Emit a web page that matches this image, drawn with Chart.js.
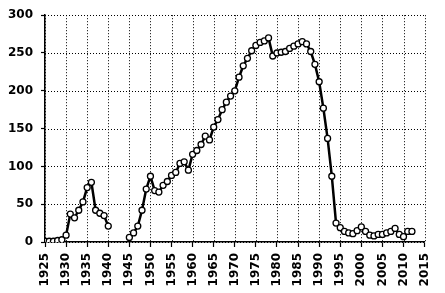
<!DOCTYPE html>
<html>
<head>
<meta charset="utf-8">
<script src="https://cdn.jsdelivr.net/npm/chart.js@4/dist/chart.umd.min.js"></script>
<style>
  html, body { margin: 0; padding: 0; background: #fff; }
  #wrap { width: 445px; height: 293px; }
</style>
</head>
<body>
<div id="wrap"><canvas id="c" width="445" height="293"></canvas></div>
<script>
// Years (annual) and values; null = no data (gap)
const years = [];
for (let y = 1925; y <= 2012; y++) years.push(y);

const values = [
  1, 1, 1, 2, 3,                 // 1925-1929
  9, 37, 32, 42, 53,             // 1930-1934
  72, 79, 42, 38, 35,            // 1935-1939
  21, null, null, null, null,    // 1940-1944
  6, 12, 21, 42, 70,             // 1945-1949
  87, 68, 66, 75, 80,            // 1950-1954
  88, 92, 104, 106, 95,          // 1955-1959
  116, 121, 129, 140, 135,       // 1960-1964
  152, 162, 175, 185, 193,       // 1965-1969
  200, 218, 233, 243, 253,       // 1970-1974
  260, 264, 266, 270, 246,       // 1975-1979
  250, 251, 252, 256, 259,       // 1980-1984
  262, 265, 262, 252, 235,       // 1985-1989
  212, 177, 137, 87, 25,         // 1990-1994
  19, 14, 12, 11, 15,            // 1995-1999
  20, 14, 9, 8, 10,              // 2000-2004
  10, 12, 14, 18, 10,            // 2005-2009
  7, 14, 14                      // 2010-2012
];

const xTicks = [1925,1930,1935,1940,1945,1950,1955,1960,1965,1970,1975,1980,1985,1990,1995,2000,2005,2010,2015];
const yTicks = [0, 50, 100, 150, 200, 250, 300];

const points = years.map((y, i) => ({ x: y, y: values[i] }));

// Dotted grid drawn through the scales (behind the data)
const dottedGrid = {
  id: 'dottedGrid',
  beforeDatasetsDraw(chart) {
    const { ctx, chartArea: a, scales: { x, y } } = chart;
    ctx.save();
    ctx.strokeStyle = '#000';
    ctx.lineWidth = 1;
    ctx.setLineDash([1, 2]);
    xTicks.forEach(v => {
      const px = Math.round(x.getPixelForValue(v)) + 0.5;
      ctx.beginPath(); ctx.moveTo(px, a.top); ctx.lineTo(px, a.bottom); ctx.stroke();
    });
    yTicks.forEach(v => {
      const py = Math.round(y.getPixelForValue(v)) + 0.5;
      ctx.beginPath(); ctx.moveTo(a.left, py); ctx.lineTo(a.right, py); ctx.stroke();
    });
    ctx.restore();
  }
};

new Chart(document.getElementById('c'), {
  type: 'line',
  data: {
    datasets: [{
      data: points,
      borderColor: '#000',
      borderWidth: 2.5,
      pointRadius: 3,
      pointBorderWidth: 1.3,
      pointBackgroundColor: '#fff',
      pointBorderColor: '#000',
      spanGaps: false,
      tension: 0
    }]
  },
  plugins: [dottedGrid],
  options: {
    responsive: false,
    animation: false,
    devicePixelRatio: 1,
    layout: { padding: { top: 12, right: 11, left: 0, bottom: 0 } },
    plugins: { legend: { display: false }, tooltip: { enabled: false } },
    scales: {
      x: {
        type: 'linear',
        min: 1925,
        max: 2015,
        afterBuildTicks: (s) => { s.ticks = xTicks.map(v => ({ value: v })); },
        afterFit: (s) => { s.height = 51; },
        ticks: {
          minRotation: 90,
          maxRotation: 90,
          autoSkip: false,
          padding: 6,
          color: '#000',
          font: { family: 'DejaVu Sans', size: 12, weight: 'bold' },
          callback: (v) => String(v)
        },
        grid: {
          drawOnChartArea: false,
          color: '#000',
          drawTicks: true,
          tickLength: 5,
          tickColor: '#000',
          tickWidth: 1.2
        },
        border: { display: true, color: '#000', width: 1.5 }
      },
      y: {
        min: 0,
        max: 300,
        afterBuildTicks: (s) => { s.ticks = yTicks.map(v => ({ value: v })); },
        afterFit: (s) => { s.width = 45; },
        ticks: {
          padding: 8,
          color: '#000',
          font: { family: 'DejaVu Sans', size: 12, weight: 'bold' }
        },
        grid: {
          drawOnChartArea: false,
          color: '#000',
          drawTicks: true,
          tickLength: 4,
          tickColor: '#000',
          tickWidth: 1.2
        },
        border: { display: true, color: '#000', width: 1.5 }
      }
    }
  }
});
</script>
</body>
</html>
